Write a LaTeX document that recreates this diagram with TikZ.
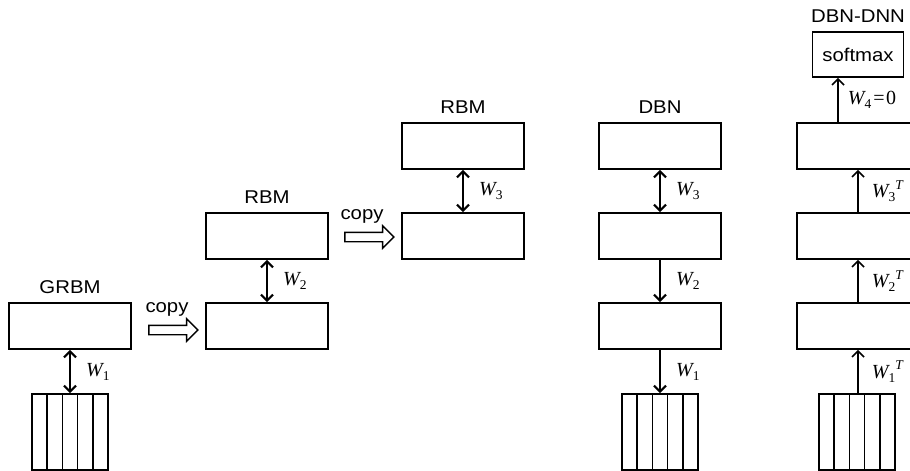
\documentclass[tikz,border=0pt]{standalone}
\usepackage{fontspec}
\setmainfont{Liberation Sans}[FakeStretch=1.1]
\newfontfamily\tmsfont{Liberation Serif}
\usetikzlibrary{positioning, arrows.meta, shapes.arrows}

\newcommand{\wsym}[1]{{\fontsize{20}{20}\selectfont\tmsfont\itshape W}\raisebox{-4pt}{\fontsize{13.5}{13.5}\selectfont\tmsfont #1}}
\newcommand{\wtr}[1]{\wsym{#1}\raisebox{8.5pt}{\fontsize{13.5}{13.5}\selectfont\tmsfont\itshape T}}

\begin{document}
\begin{tikzpicture}[
			x=1pt, y=-1pt,
			node distance=90pt,
			on grid,
			label distance=5pt,
			>={Straight Barb[length=6pt,width=12pt]},
			title/.style={
				font=\fontsize{18.5}{20}\selectfont
			},
			layer/.style={
				draw,
				rectangle,
				minimum width=122pt,
				minimum height=46pt,
				line width=1.6pt,
				inner sep=0pt
			},
			visible/.style={
				draw,
				rectangle,
				minimum size=76pt,
				line width=1.6pt,
				inner sep=0pt,
				path picture={
					\foreach \k in {1,...,4}
						\draw[line width=1.5pt] ([xshift=\k*15.2pt]path picture bounding box.south west) -- ([xshift=\k*15.2pt]path picture bounding box.north west);
				}
			},
			copyarrow/.style={
				single arrow,
				draw,
				line width=1.4pt,
				minimum height=49pt,
				minimum width=0pt,
				inner xsep=0pt,
				inner ysep=4pt,
				single arrow head extend=6.5pt,
				single arrow tip angle=90
			},
			wlab/.style={
				anchor=west,
				inner sep=0pt,
				xshift=15pt
			},
			every edge/.style={
				draw,
				line width=2.2pt
			},
			upedge/.style={
				draw,
				line width=1.7pt,
				->
			}
			]
			\clip (0,0) rectangle (910,471);
			
			% GRBM
			\node[layer, label={[title]above:GRBM}] (g1) at (70,326) {};
			\node[visible, below=106pt of g1] (v1) {};
			
			% first copy
			\node[copyarrow] (c1) at (171,330) {};
			\node[title, above=21pt of c1, xshift=-4pt] (c1t) {copy};
			
			% RBM, second layer
			\node[layer] (r2a) at (267,326) {};
			\node[layer, above=of r2a, label={[title]above:RBM}] (r2b) {};
			
			% second copy
			\node[copyarrow] (c2) at (367,237) {};
			\node[title, above=21pt of c2, xshift=-5pt] (c2t) {copy};
			
			% RBM, third layer
			\node[layer] (r3a) at (463,236) {};
			\node[layer, above=of r3a, label={[title]above:RBM}] (r3b) {};
			
			% DBN
			\node[layer] (d1) at (660,326) {};
			\node[layer, above=of d1] (d2) {};
			\node[layer, above=of d2, label={[title]above:DBN}] (d3) {};
			\node[visible, below=106pt of d1] (vd) {};
			
			% DBN-DNN
			\node[layer] (n1) at (858,326) {};
			\node[layer, above=of n1] (n2) {};
			\node[layer, above=of n2] (n3) {};
			\node[visible, below=106pt of n1, xshift=-1pt] (vn) {};
			\node[draw, line width=1.6pt, minimum width=91pt, minimum height=45pt, inner sep=0pt, title, label={[title]above:DBN-DNN}] (sm) at (858,54.5) {softmax};
			
			% Weights
			\path
			(g1) edge[<->] node[wlab] {\wsym{1}} (v1)
			(r2a) edge[<->] node[wlab] {\wsym{2}} (r2b)
			(r3a) edge[<->] node[wlab] {\wsym{3}} (r3b)
			(d3) edge[<->] node[wlab] {\wsym{3}} (d2)
			(d2) edge[->] node[wlab] {\wsym{2}} (d1)
			(d1) edge[->] node[wlab] {\wsym{1}} (vd);
			
			\draw[upedge] (vn.north -| n1) -- node[wlab, xshift=-2pt] {\wtr{1}} (n1.south);
			\draw[upedge] (n1) -- node[wlab, xshift=-2pt] {\wtr{2}} (n2.south);
			\draw[upedge] (n2) -- node[wlab, xshift=-2pt] {\wtr{3}} (n3.south);
			\draw[upedge] ([xshift=-20pt]n3.north) -- node[wlab, xshift=-6pt] {\wsym{4}{\fontsize{20}{20}\selectfont\tmsfont\kern2pt=\kern1.5pt0}} ([xshift=-20pt]sm.south);
		\end{tikzpicture}
\end{document}
